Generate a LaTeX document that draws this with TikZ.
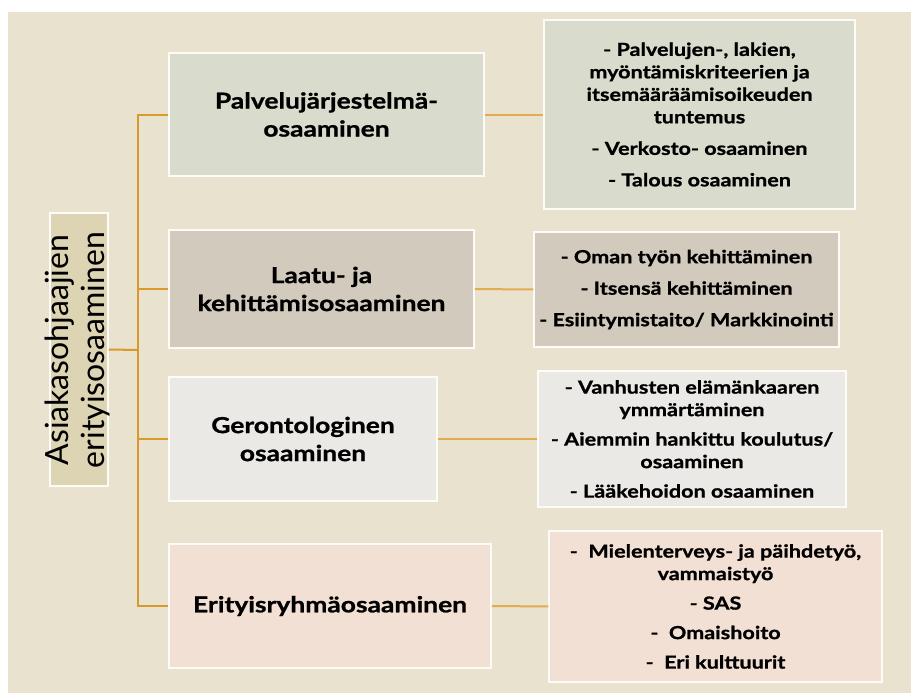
\documentclass[tikz,border=0pt]{standalone}
\usepackage{fontspec}
\setmainfont{Lato}
\newfontfamily\widefont[FakeStretch=1.2,FakeBold=1]{Lato Bold}
\usepackage{xcolor}
\usetikzlibrary{positioning,calc}
\definecolor{bgbeige}{HTML}{E8E2CE}
\definecolor{roottan}{HTML}{DCD4B2}
\definecolor{pjgreen}{HTML}{D9DBCC}
\definecolor{laatubrown}{HTML}{D2CABD}
\definecolor{gerogrey}{HTML}{EAE9E6}
\definecolor{eritpink}{HTML}{F3E0D5}
\definecolor{linkorange}{HTML}{E3AC52}
\definecolor{trunkorange}{HTML}{D99A2B}

\begin{document}
\begin{tikzpicture}[x=1pt,y=-1pt,
    box/.style={rectangle,draw=white!85!bgbeige,line width=1.5pt,inner sep=0pt,align=center},
    branch/.style={box,font=\widefont\fontsize{22}{28}\selectfont},
    leaf/.style={box,font=\widefont\fontsize{18}{22.5}\selectfont},
    link/.style={draw=linkorange,line width=2pt}]
        \useasboundingbox (0,0) rectangle (911,693);
        \fill[bgbeige] (8,12) rectangle (911,693);
        %%%%%%%%%%%%%%%%%%%%%%%%%%%root%%%%%%%%%%%%%%%%%%%%%%
          \node[box,fill=roottan,minimum width=58pt,minimum height=273pt] (root) at (79,349.5) {};
          \node[rotate=90,align=center,font=\fontsize{32}{36}\selectfont] (roottxt) at (77,350)
          {Asiakasohjaajien\\erityisosaaminen};
          \coordinate (trunk) at (138,350);
        %%%%%%%%%%%%%%%%%%%%%%%%%%%branches%%%%%%%%%%%%%%%%%%
          \node[branch,fill=pjgreen,minimum width=315pt,minimum height=123pt] (pj) at (326.5,114.5)
          {Palvelujärjestelmä-\\osaaminen};
          \node[branch,fill=laatubrown,minimum width=305pt,minimum height=118pt] (laatu) at (321.5,289)
          {Laatu- ja\\kehittämisosaaminen};
          \node[branch,fill=gerogrey,minimum width=268pt,minimum height=124pt] (gero) at (303,439)
          {Gerontologinen\\osaaminen};
          \node[branch,fill=eritpink,minimum width=322pt,minimum height=124pt] (erit) at (330,606)
          {Erityisryhmäosaaminen};
        %%%%%%%%%%%%%%%%%%%%%%%%%%%leaves%%%%%%%%%%%%%%%%%%%%
          \node[leaf,fill=pjgreen,minimum width=311pt,minimum height=189pt] (pjleaf) at (699.5,114.5)
          {- Palvelujen-, lakien,\\myöntämiskriteerien ja\\itsemääräämisoikeuden\\tuntemus\\[9pt]
          - Verkosto- osaaminen\\[9pt] - Talous osaaminen};
          \node[leaf,fill=laatubrown,minimum width=305pt,minimum height=115pt] (laatuleaf) at (686.5,289.5)
          {- Oman työn kehittäminen\\[9pt] - Itsensä kehittäminen\\[9pt]
          - Esiintymistaito/ Markkinointi};
          \node[leaf,fill=gerogrey,minimum width=308pt,minimum height=136pt] (geroleaf) at (692,439)
          {- Vanhusten elämänkaaren\\ymmärtäminen\\[7pt]
          - Aiemmin hankittu koulutus/\\osaaminen\\[7pt] - Lääkehoidon osaaminen};
          \node[leaf,fill=eritpink,minimum width=333pt,minimum height=151pt] (eritleaf) at (715.5,606.5)
          {-\ \ Mielenterveys- ja päihdetyö,\\vammaistyö\\[7pt] - SAS\\[7pt]
          -\ \ Omaishoito\\[7pt] -\ \ Eri kulttuurit};
        %%%%%%%%%%%%%%%%%%%%%%%%%%%links%%%%%%%%%%%%%%%%%%%%%
          \draw[link,draw=trunkorange] (root.east) -- (trunk);
          \foreach \b in {pj,laatu,gero,erit}
            \draw[link,draw=trunkorange] (trunk) |- (\b.west);
          \draw[link] (pj) -- (pjleaf);
          \draw[link] (laatu) -- (laatuleaf);
          \draw[link] (gero) -- (geroleaf);
          \draw[link] (erit) -- (eritleaf);
\end{tikzpicture}
\end{document}
